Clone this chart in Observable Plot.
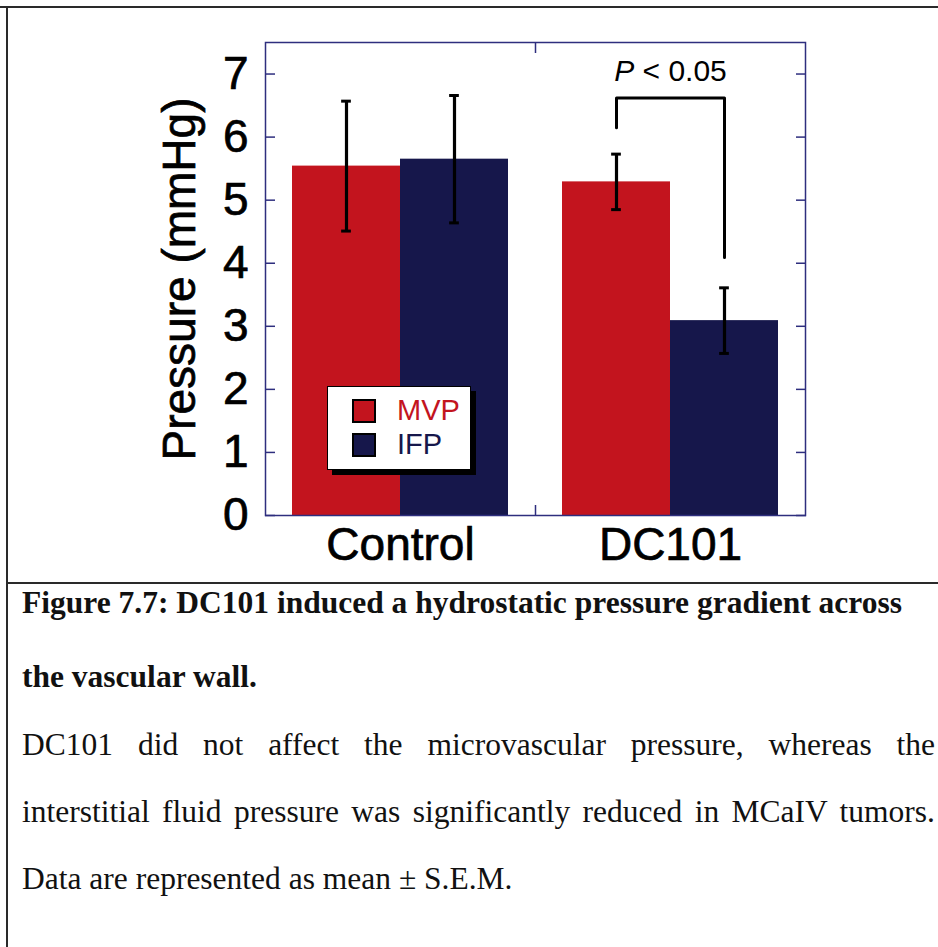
<!DOCTYPE html>
<html>
<head>
<meta charset="utf-8">
<script src="https://cdn.jsdelivr.net/npm/d3@7"></script>
<script src="https://cdn.jsdelivr.net/npm/@observablehq/plot@0.6"></script>
<style>
  body { margin: 0; background: #fff; }
  #page { position: relative; width: 938px; height: 947px; overflow: hidden; background: #fff; }
  #chart { position: absolute; left: 0; top: 0; }
  #chart svg text.heavy, #chart svg .heavy text { stroke: #000; stroke-width: 0.7px; paint-order: stroke; }
  .rule { position: absolute; z-index: 2; }
  .rule.top { left: 0; top: 6px; width: 938px; border-top: 2px solid #2a2a2a; }
  .rule.left { left: 6px; top: 6px; height: 941px; border-left: 2px solid #2a2a2a; }
  .rule.mid { left: 6px; top: 582px; width: 932px; border-top: 2px solid #2a2a2a; }
  #legend {
    position: absolute; left: 327px; top: 386px; width: 144px; height: 84px;
    box-sizing: border-box; background: #fff; border: 1.5px solid #000;
    box-shadow: 5px 5px 0 #000; z-index: 3;
    font-family: "Liberation Sans", Arial, sans-serif; font-size: 29px;
  }
  #legend .row { position: absolute; left: 24px; height: 24px; display: flex; align-items: center; }
  #legend .sw { width: 24px; height: 24px; box-sizing: border-box; border: 2px solid #000; }
  #legend .lb { margin-left: 21px; line-height: 1; }
  .cap {
    position: absolute; left: 22px; color: #111; line-height: 1; white-space: nowrap;
    font-family: "Liberation Serif", "Times New Roman", serif; font-size: 31.5px;
  }
  .cap.b { font-weight: bold; }
  .cap.j { width: 913px; white-space: normal; text-align: justify; text-align-last: justify; }
</style>
</head>
<body>
<div id="page">
  <div class="rule top"></div>
  <div class="rule left"></div>
  <div class="rule mid"></div>
  <div id="chart"></div>
</div>
<script>
// Groups on the x axis and the two measured pressures
const groups = ["Control", "DC101"];
const series = ["MVP", "IFP"];
const seriesColors = ["#c3141e", "#16174b"];

// Mean pressure (mmHg) and S.E.M. for each group
const mvpMean = [5.54, 5.29];
const mvpSem  = [1.03, 0.44];
const ifpMean = [5.65, 3.09];
const ifpSem  = [1.01, 0.52];

// Axis ticks and labels
const yTicks = [0, 1, 2, 3, 4, 5, 6, 7];
const yLabel = "Pressure (mmHg)";

// Significance bracket over the DC101 pair
const pLabel = ["P", " < 0.05"];
const bracketTop = 6.62;
const bracketLegEnds = [6.15, 4.09];

// Caption lines
const captionTitle = ["Figure 7.7: DC101 induced a hydrostatic pressure gradient across", "the vascular wall."];
const captionBody = [
  "DC101 did not affect the microvascular pressure, whereas the",
  "interstitial fluid pressure was significantly reduced in MCaIV tumors.",
  "Data are represented as mean ± S.E.M."
];

const barWidth = 0.4;
const capHalf = 0.018;
const axisColor = "#2e2e7e";

const means = [mvpMean, ifpMean];
const sems = [mvpSem, ifpSem];
const bars = groups.flatMap((g, i) => series.map((s, j) => ({
  group: g,
  series: s,
  mean: means[j][i],
  sem: sems[j][i],
  x1: i + (j - 1) * barWidth,
  x2: i + j * barWidth,
  xc: i + (j - 0.5) * barWidth
})));

const gi = groups.indexOf("DC101");
const bracket = [
  {x: gi - barWidth / 2, y: bracketLegEnds[0]},
  {x: gi - barWidth / 2, y: bracketTop},
  {x: gi + barWidth / 2, y: bracketTop},
  {x: gi + barWidth / 2, y: bracketLegEnds[1]}
];

const chart = Plot.plot({
  width: 938,
  height: 583,
  marginLeft: 265,
  marginRight: 133,
  marginTop: 42,
  marginBottom: 68,
  style: {fontFamily: "'Liberation Sans', Arial, sans-serif", background: "transparent", color: "#000"},
  x: {type: "linear", domain: [-0.5, groups.length - 0.5], axis: null, label: null},
  y: {domain: [0, 7.5], axis: null, label: null},
  color: {domain: series, range: seriesColors},
  marks: [
    Plot.rectY(bars, {x1: "x1", x2: "x2", y: "mean", fill: "series"}),
    Plot.ruleX(bars, {x: "xc", y1: d => d.mean - d.sem, y2: d => d.mean + d.sem, stroke: "#000", strokeWidth: 3.2}),
    Plot.ruleY(bars, {y: d => d.mean + d.sem, x1: d => d.xc - capHalf, x2: d => d.xc + capHalf, stroke: "#000", strokeWidth: 3}),
    Plot.ruleY(bars, {y: d => d.mean - d.sem, x1: d => d.xc - capHalf, x2: d => d.xc + capHalf, stroke: "#000", strokeWidth: 3}),
    Plot.line(bracket, {x: "x", y: "y", stroke: "#000", strokeWidth: 3}),
    Plot.text([pLabel.join("")], {x: gi, y: bracketTop, dy: -27, fontSize: 30, fill: "#000"}),
    Plot.frame({stroke: axisColor, strokeWidth: 1.5}),
    Plot.axisY(yTicks, {anchor: "left", tickSize: -10, tickPadding: 27, fontSize: 46, stroke: axisColor, fill: "#000", strokeWidth: 1.5, tickFormat: d => String(d), label: null, className: "heavy"}),
    Plot.axisY(yTicks, {anchor: "right", tickSize: -10, stroke: axisColor, fill: "none", strokeWidth: 1.5, tickFormat: () => "", label: null}),
    Plot.axisX([0.5], {anchor: "top", tickSize: -10, stroke: axisColor, fill: "none", strokeWidth: 1.5, tickFormat: () => "", label: null}),
    Plot.axisX([0.5], {anchor: "bottom", tickSize: -10, stroke: axisColor, fill: "none", strokeWidth: 1.5, tickFormat: () => "", label: null}),
    Plot.axisX(groups.map((g, i) => i), {anchor: "bottom", tickSize: 0, tickPadding: 12, fontSize: 46, fill: "#000", tickFormat: i => groups[i], label: null, className: "heavy"}),
    Plot.text([yLabel], {frameAnchor: "left", textAnchor: "middle", rotate: -90, dx: -85, fontSize: 46, fill: "#000", className: "heavy"})
  ]
});
document.getElementById("chart").append(chart);

// Italic P in the significance label
d3.select(chart).selectAll("text")
  .filter(function() { return this.textContent === pLabel.join(""); })
  .each(function() {
    const t = d3.select(this).text("");
    t.append("tspan").attr("font-style", "italic").text(pLabel[0]);
    t.append("tspan").text(pLabel[1]);
  });

// Legend built from the chart's color scale
const color = chart.scale("color");
const legend = d3.select("#page").append("div").attr("id", "legend");
color.domain.forEach((s, i) => {
  const row = legend.append("div").attr("class", "row").style("top", (11.5 + i * 34) + "px");
  row.append("span").attr("class", "sw").style("background", color.range[i]);
  row.append("span").attr("class", "lb").style("color", color.range[i]).text(s);
});

// Caption below the chart
const page = d3.select("#page");
const fs = 31.5;
const topFor = baseline => (baseline - 0.8375 * fs) + "px";
captionTitle.forEach((line, i) => {
  page.append("div").attr("class", "cap b").style("top", topFor([613, 687][i])).text(line);
});
captionBody.forEach((line, i) => {
  page.append("div").attr("class", i < captionBody.length - 1 ? "cap j" : "cap")
    .style("top", topFor([755, 822, 889][i])).text(line);
});
</script>
</body>
</html>
